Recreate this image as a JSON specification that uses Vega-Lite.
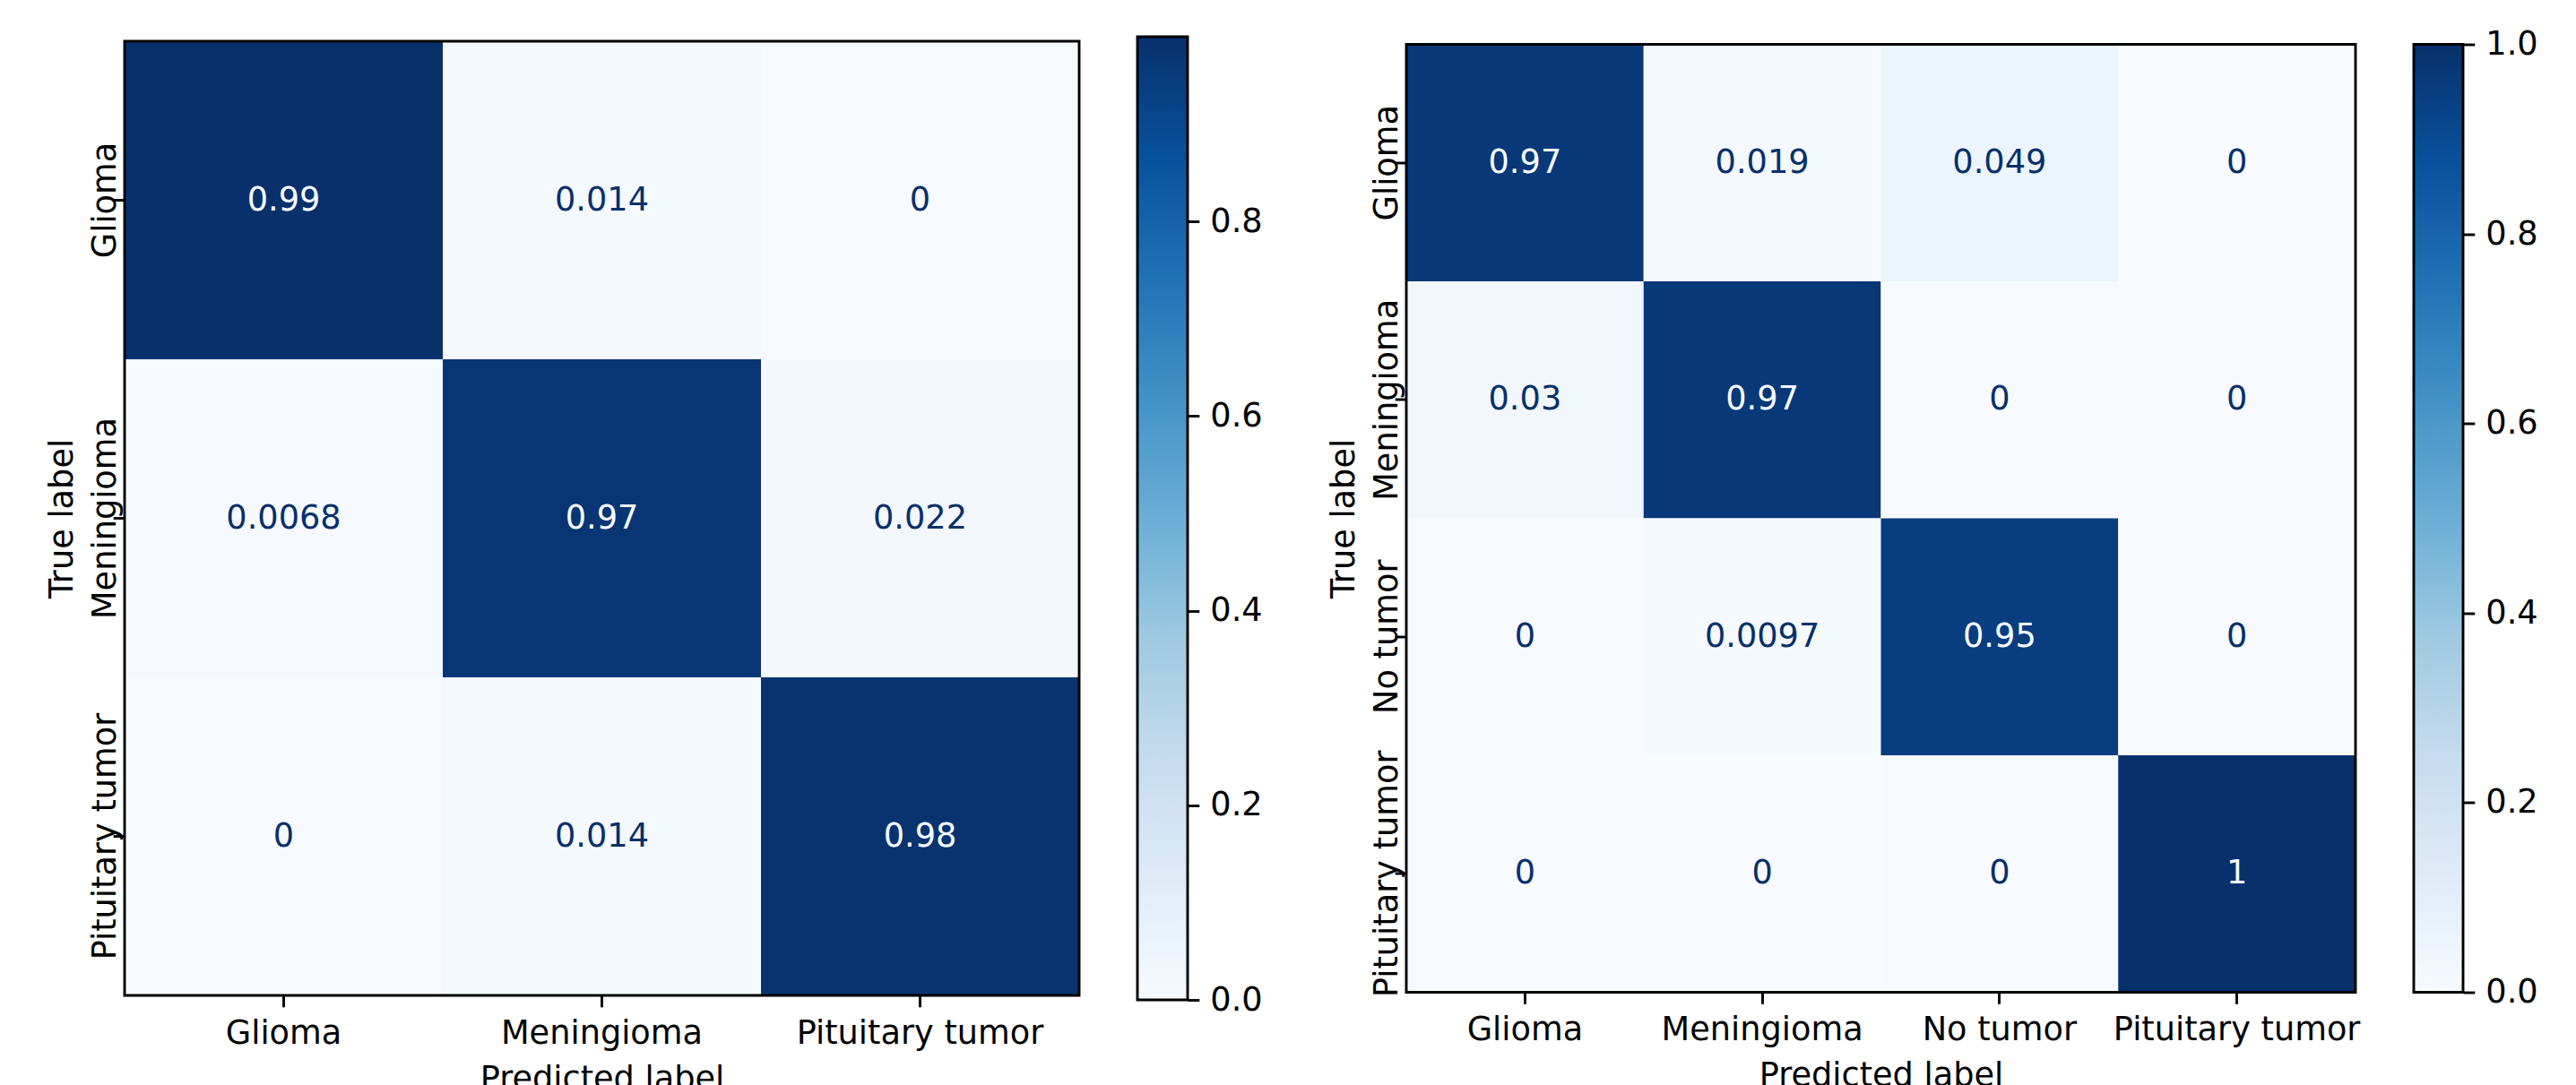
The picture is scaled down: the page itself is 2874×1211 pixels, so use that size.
{
  "$schema": "https://vega.github.io/schema/vega-lite/v6.json",
  "background": "white",
  "padding": {"left": 49, "top": 30, "right": 10, "bottom": 0},
  "config": {
    "font": "DejaVu Sans",
    "view": {"stroke": "black", "strokeWidth": 2.9},
    "style": {"cell": {"strokeForeground": true}},
    "axis": {
      "labelFont": "DejaVu Sans", "titleFont": "DejaVu Sans",
      "labelFontSize": 36.7, "titleFontSize": 36.7,
      "labelColor": "black", "titleColor": "black", "titleFontWeight": "normal",
      "tickColor": "black", "tickWidth": 2.9, "tickSize": 12.8,
      "domain": false, "grid": false, "zindex": 1, "labelOverlap": false,
      "labelLimit": 0, "titleLimit": 0
    }
  },
  "datasets": {
    "cm3": [
      {"actual": "Glioma", "pred": "Glioma", "value": 0.99},
      {"actual": "Glioma", "pred": "Meningioma", "value": 0.014},
      {"actual": "Glioma", "pred": "Pituitary tumor", "value": 0},
      {"actual": "Meningioma", "pred": "Glioma", "value": 0.0068},
      {"actual": "Meningioma", "pred": "Meningioma", "value": 0.97},
      {"actual": "Meningioma", "pred": "Pituitary tumor", "value": 0.022},
      {"actual": "Pituitary tumor", "pred": "Glioma", "value": 0},
      {"actual": "Pituitary tumor", "pred": "Meningioma", "value": 0.014},
      {"actual": "Pituitary tumor", "pred": "Pituitary tumor", "value": 0.98}
    ],
    "cm4": [
      {"actual": "Glioma", "pred": "Glioma", "value": 0.97},
      {"actual": "Glioma", "pred": "Meningioma", "value": 0.019},
      {"actual": "Glioma", "pred": "No tumor", "value": 0.049},
      {"actual": "Glioma", "pred": "Pituitary tumor", "value": 0},
      {"actual": "Meningioma", "pred": "Glioma", "value": 0.03},
      {"actual": "Meningioma", "pred": "Meningioma", "value": 0.97},
      {"actual": "Meningioma", "pred": "No tumor", "value": 0},
      {"actual": "Meningioma", "pred": "Pituitary tumor", "value": 0},
      {"actual": "No tumor", "pred": "Glioma", "value": 0},
      {"actual": "No tumor", "pred": "Meningioma", "value": 0.0097},
      {"actual": "No tumor", "pred": "No tumor", "value": 0.95},
      {"actual": "No tumor", "pred": "Pituitary tumor", "value": 0},
      {"actual": "Pituitary tumor", "pred": "Glioma", "value": 0},
      {"actual": "Pituitary tumor", "pred": "Meningioma", "value": 0},
      {"actual": "Pituitary tumor", "pred": "No tumor", "value": 0},
      {"actual": "Pituitary tumor", "pred": "Pituitary tumor", "value": 1}
    ],
    "cb3": [{"lo": 0, "hi": 0.99}],
    "cb4": [{"lo": 0, "hi": 1}]
  },
  "bounds": "flush",
  "center": true,
  "spacing": 65,
  "resolve": {"scale": {"color": "independent", "x": "independent", "y": "independent"}},
  "hconcat": [
    {
      "width": 1065, "height": 1065,
      "data": {"name": "cm3"},
      "encoding": {
        "x": {"field": "pred", "type": "nominal", "sort": ["Glioma", "Meningioma", "Pituitary tumor"],
          "scale": {"paddingInner": 0, "paddingOuter": 0},
          "axis": {"title": "Predicted label", "labelAngle": 0, "labelBaseline": "alphabetic", "labelPadding": 40.2,
            "titleBaseline": "alphabetic", "titleY": 104, "titleX": 532.5, "titleAlign": "center"}},
        "y": {"field": "actual", "type": "nominal", "sort": ["Glioma", "Meningioma", "Pituitary tumor"],
          "scale": {"paddingInner": 0, "paddingOuter": 0},
          "axis": {"title": "True label", "labelAngle": 270, "labelAlign": "center", "labelBaseline": "alphabetic", "labelPadding": -1.8,
            "titleAngle": 270, "titleX": -59, "titleY": 532.5, "titleAlign": "center", "titleBaseline": "alphabetic"}}
      },
      "layer": [
        {"mark": {"type": "rect"},
         "encoding": {"color": {"field": "value", "type": "quantitative", "legend": null,
           "scale": {"domain": [0, 0.12375, 0.2475, 0.37125, 0.495, 0.61875, 0.7425, 0.86625, 0.99],
             "range": ["#f7fbff", "#deebf7", "#c6dbef", "#9ecae1", "#6baed6", "#4292c6", "#2171b5", "#08519c", "#08306b"],
             "interpolate": "rgb"}}}},
        {"mark": {"type": "text", "fontSize": 36.7, "font": "DejaVu Sans", "align": "center", "baseline": "middle"},
         "encoding": {"text": {"field": "value", "type": "quantitative", "format": ".2~g"},
           "color": {"condition": {"test": "datum.value > 0.495", "value": "#f7fbff"}, "value": "#08306b"}}}
      ]
    },
    {
      "width": 56, "height": 1075,
      "data": {"name": "cb3"},
      "mark": {"type": "rect", "fill": {"gradient": "linear", "x1": 0, "y1": 1, "x2": 0, "y2": 0,
        "stops": [
          {"offset": 0, "color": "#f7fbff"}, {"offset": 0.125, "color": "#deebf7"}, {"offset": 0.25, "color": "#c6dbef"},
          {"offset": 0.375, "color": "#9ecae1"}, {"offset": 0.5, "color": "#6baed6"}, {"offset": 0.625, "color": "#4292c6"},
          {"offset": 0.75, "color": "#2171b5"}, {"offset": 0.875, "color": "#08519c"}, {"offset": 1, "color": "#08306b"}]}},
      "encoding": {
        "y": {"field": "lo", "type": "quantitative", "scale": {"domain": [0, 0.99], "nice": false, "zero": false},
          "axis": {"orient": "right", "values": [0, 0.2, 0.4, 0.6, 0.8], "format": ".1f", "title": null,
            "labelPadding": 12, "labelBaseline": "middle", "labelAlign": "left"}},
        "y2": {"field": "hi"}
      }
    },
    {
      "width": 114, "height": 10,
      "view": {"stroke": null},
      "data": {"values": []},
      "mark": {"type": "point", "opacity": 0},
      "encoding": {}
    },
    {
      "width": 1059, "height": 1058,
      "data": {"name": "cm4"},
      "encoding": {
        "x": {"field": "pred", "type": "nominal", "sort": ["Glioma", "Meningioma", "No tumor", "Pituitary tumor"],
          "scale": {"paddingInner": 0, "paddingOuter": 0},
          "axis": {"title": "Predicted label", "labelAngle": 0, "labelBaseline": "alphabetic", "labelPadding": 40.2,
            "titleBaseline": "alphabetic", "titleY": 104, "titleX": 529.5, "titleAlign": "center"}},
        "y": {"field": "actual", "type": "nominal", "sort": ["Glioma", "Meningioma", "No tumor", "Pituitary tumor"],
          "scale": {"paddingInner": 0, "paddingOuter": 0},
          "axis": {"title": "True label", "labelAngle": 270, "labelAlign": "center", "labelBaseline": "alphabetic", "labelPadding": -1.8,
            "titleAngle": 270, "titleX": -59, "titleY": 529, "titleAlign": "center", "titleBaseline": "alphabetic"}}
      },
      "layer": [
        {"mark": {"type": "rect"},
         "encoding": {"color": {"field": "value", "type": "quantitative", "legend": null,
           "scale": {"domain": [0, 0.125, 0.25, 0.375, 0.5, 0.625, 0.75, 0.875, 1],
             "range": ["#f7fbff", "#deebf7", "#c6dbef", "#9ecae1", "#6baed6", "#4292c6", "#2171b5", "#08519c", "#08306b"],
             "interpolate": "rgb"}}}},
        {"mark": {"type": "text", "fontSize": 36.7, "font": "DejaVu Sans", "align": "center", "baseline": "middle"},
         "encoding": {"text": {"field": "value", "type": "quantitative", "format": ".2~g"},
           "color": {"condition": {"test": "datum.value > 0.5", "value": "#f7fbff"}, "value": "#08306b"}}}
      ]
    },
    {
      "width": 55, "height": 1058,
      "data": {"name": "cb4"},
      "mark": {"type": "rect", "fill": {"gradient": "linear", "x1": 0, "y1": 1, "x2": 0, "y2": 0,
        "stops": [
          {"offset": 0, "color": "#f7fbff"}, {"offset": 0.125, "color": "#deebf7"}, {"offset": 0.25, "color": "#c6dbef"},
          {"offset": 0.375, "color": "#9ecae1"}, {"offset": 0.5, "color": "#6baed6"}, {"offset": 0.625, "color": "#4292c6"},
          {"offset": 0.75, "color": "#2171b5"}, {"offset": 0.875, "color": "#08519c"}, {"offset": 1, "color": "#08306b"}]}},
      "encoding": {
        "y": {"field": "lo", "type": "quantitative", "scale": {"domain": [0, 1], "nice": false, "zero": false},
          "axis": {"orient": "right", "values": [0, 0.2, 0.4, 0.6, 0.8, 1.0], "format": ".1f", "title": null,
            "labelPadding": 12, "labelBaseline": "middle", "labelAlign": "left"}},
        "y2": {"field": "hi"}
      }
    }
  ]
}
